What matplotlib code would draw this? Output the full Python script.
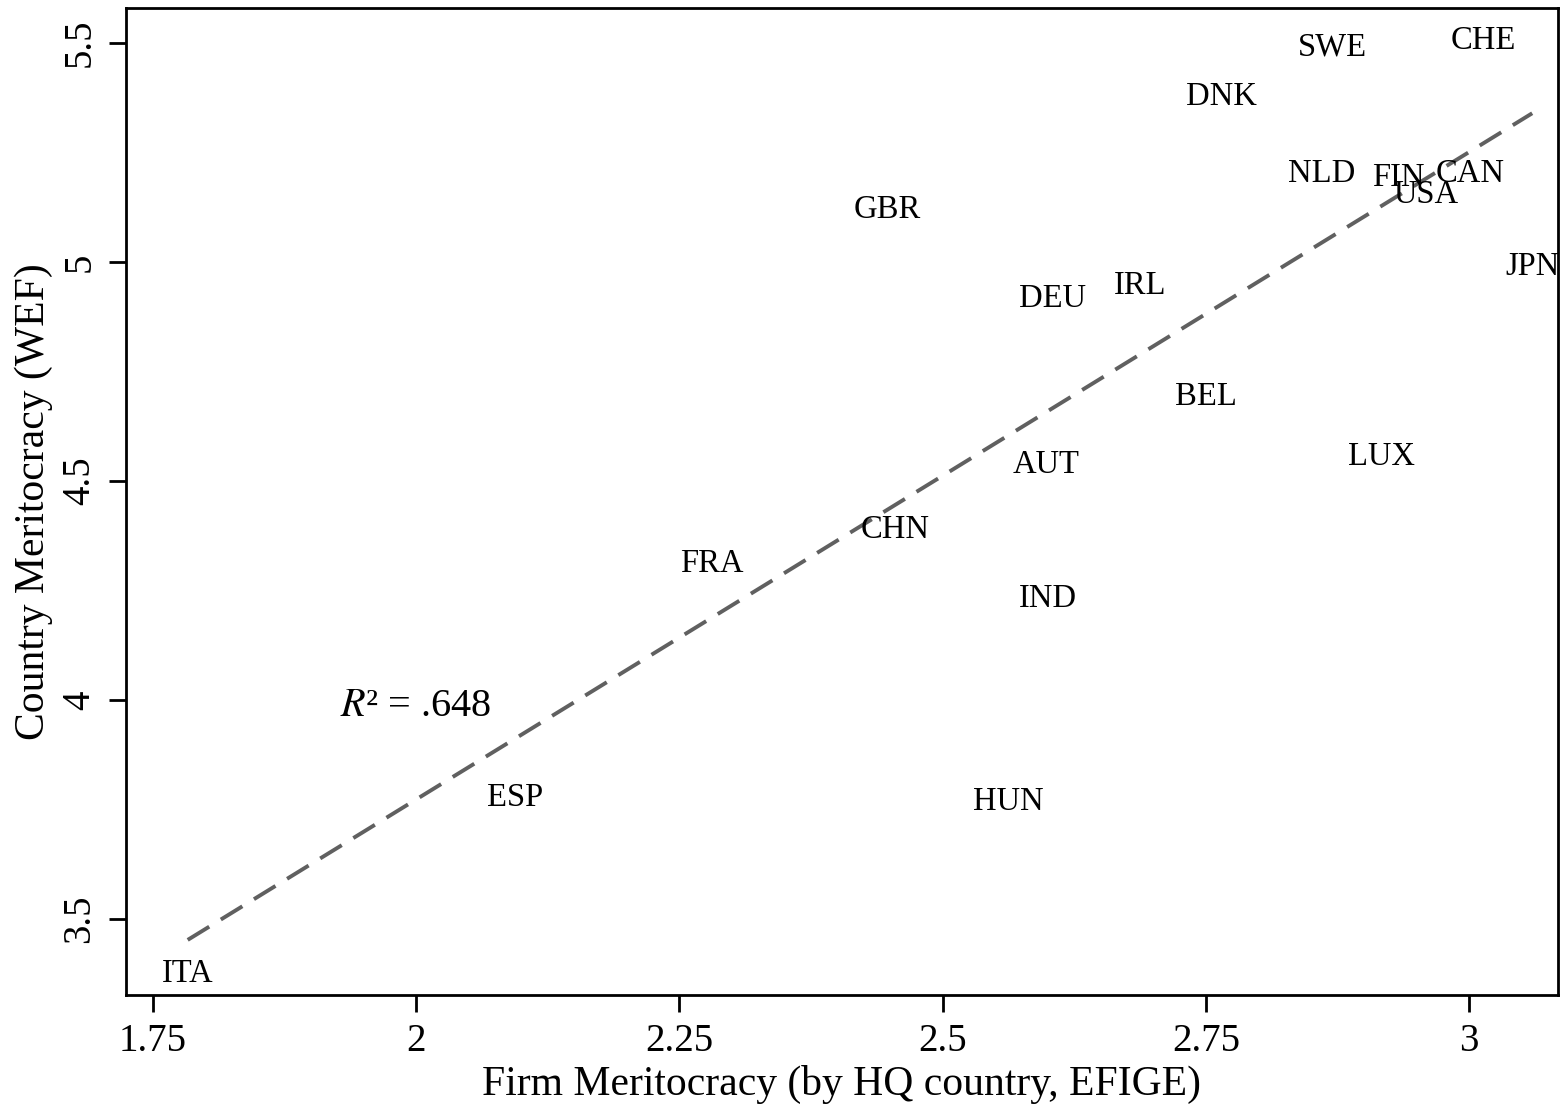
import matplotlib.pyplot as plt
import numpy as np

plt.rcParams['font.family'] = ['Liberation Serif', 'DejaVu Serif']

# country labels and values
countries = ['ITA', 'ESP', 'FRA', 'CHN', 'GBR', 'DEU', 'AUT', 'IND', 'HUN', 'IRL',
             'BEL', 'DNK', 'NLD', 'SWE', 'FIN', 'USA', 'CAN', 'CHE', 'LUX', 'JPN']
firm = [1.783, 2.094, 2.281, 2.455, 2.447, 2.604, 2.598, 2.600, 2.562, 2.688,
        2.750, 2.765, 2.860, 2.870, 2.933, 2.959, 3.001, 3.014, 2.917, 3.060]
country = [3.375, 3.777, 4.311, 4.389, 5.119, 4.916, 4.537, 4.231, 3.768, 4.946,
           4.692, 5.377, 5.201, 5.491, 5.192, 5.154, 5.201, 5.505, 4.555, 4.989]

# fitted line
fit_x = [1.783, 3.060]
fit_slope = 1.478
fit_icept = 0.817
r2_text = r'$R$² = .648'

xticks = [1.75, 2, 2.25, 2.5, 2.75, 3]
xtick_labels = ['1.75', '2', '2.25', '2.5', '2.75', '3']
yticks = [3.5, 4, 4.5, 5, 5.5]
ytick_labels = ['3.5', '4', '4.5', '5', '5.5']

fig = plt.figure(figsize=(15.64, 11.06), dpi=100)
ax = fig.add_axes([126/1564, 1 - 995/1106, (1558-126)/1564, (995-8)/1106])

fx = np.array(fit_x)
ax.plot(fx, fit_icept + fit_slope*fx, ls=(0, (6.5, 3.5)), lw=2.8, color='#606060', zorder=1)

for lab, xv, yv in zip(countries, firm, country):
    ax.text(xv, yv, lab, ha='center', va='center', fontsize=23.5, zorder=3, clip_on=True)

ax.text(1.928, 3.986, r2_text, ha='left', va='center', fontsize=29,
        math_fontfamily='stix')

ax.set_xlim(1.7244, 3.0845)
ax.set_ylim(3.3265, 5.58)
ax.set_xticks(xticks)
ax.set_xticklabels(xtick_labels, fontsize=28)
ax.set_yticks(yticks)
ax.set_yticklabels(ytick_labels, fontsize=28, rotation=90, va='center')
ax.tick_params(axis='both', length=12, width=2, direction='out', pad=8)
for s in ax.spines.values():
    s.set_linewidth(2)
ax.set_xlabel('Firm Meritocracy (by HQ country, EFIGE)', fontsize=30, labelpad=4)
ax.set_ylabel('Country Meritocracy (WEF)', fontsize=30, labelpad=6)

fig.savefig('out.png', dpi=100)
